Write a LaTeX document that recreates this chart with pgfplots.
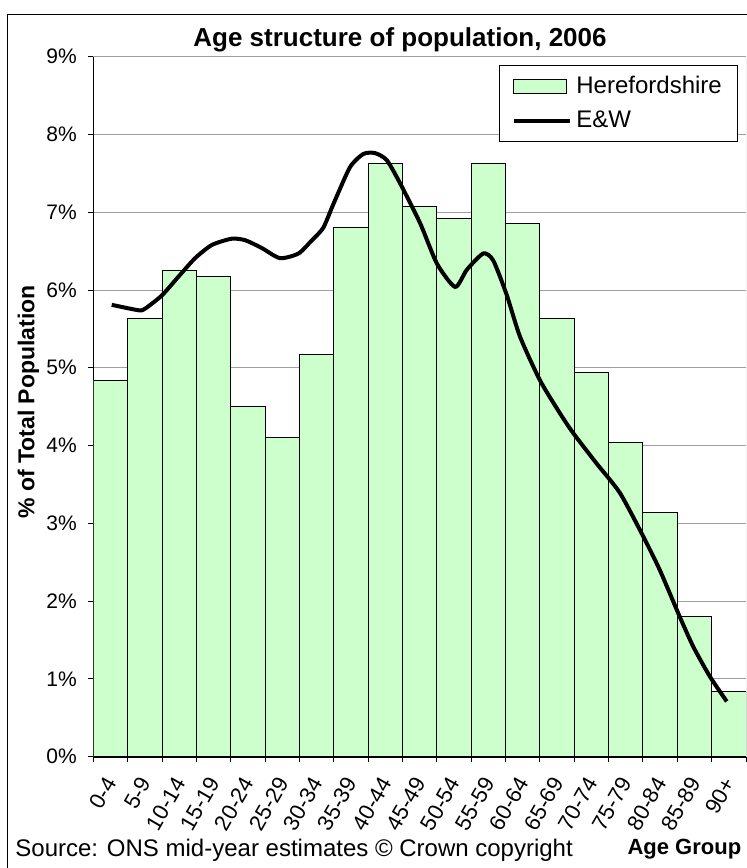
\documentclass[border=0pt]{standalone}
\usepackage{fontspec}
\setmainfont{Liberation Sans}
\usepackage{pgfplots}
\pgfplotsset{compat=1.18}
\definecolor{barfill}{HTML}{CCFFCC}
\definecolor{gridgray}{HTML}{A0A0A0}
\begin{document}
\begin{tikzpicture}[x=1pt,y=1pt]
\useasboundingbox (0,0) rectangle (373.5,434);
\draw[black, line width=0.6pt] (3.65,-10) -- (3.65,426.65) -- (390,426.65);
\begin{axis}[
  at={(46.75pt,55.65pt)}, anchor=south west,
  scale only axis, width=326.25pt, height=350pt,
  xmin=-0.5, xmax=18.5, ymin=0, ymax=9,
  axis x line*=bottom, axis y line*=left,
  x axis line style={line width=1pt, black},
  y axis line style={line width=0.75pt, black},
  ytick={0,...,9},
  yticklabel={\pgfmathprintnumber{\tick}\%},
  /pgf/number format/assume math mode=true,
  ymajorgrids, major grid style={gridgray, line width=0.5pt},
  tick align=outside,
  major tick length=2.85pt, minor tick length=2.85pt,
  every tick/.style={black, line width=0.5pt},
  xtick={0,...,18},
  xticklabels={0-4,5-9,10-14,15-19,20-24,25-29,30-34,35-39,40-44,45-49,50-54,55-59,60-64,65-69,70-74,75-79,80-84,85-89,90+},
  major x tick style={draw=none},
  minor xtick={-0.5,0.5,...,18.5},
  xticklabel style={xshift=2pt, yshift=-5.5pt, rotate=60, anchor=east, font=\fontsize{11}{13}\selectfont},
  yticklabel style={xshift=-2pt, font=\fontsize{10.5}{12}\selectfont},
  legend style={at={(0.9882,0.9881)}, anchor=north east, draw=black, line width=0.5pt,
    font=\fontsize{12}{14.4}\selectfont, cells={anchor=west}, row sep=3pt,
    inner xsep=6pt, inner ysep=3.5pt},
]
\addplot[ybar, bar width=1, fill=barfill, draw=black, line width=0.5pt,
  legend image code/.code={\draw[draw=black, fill=barfill, line width=0.5pt] (0pt,-3.5pt) rectangle (26.2pt,3.5pt);}]
coordinates {
(0,4.84) (1,5.63) (2,6.25) (3,6.17) (4,4.50) (5,4.11) (6,5.17) (7,6.81) (8,7.63) (9,7.07)
(10,6.92) (11,7.63) (12,6.86) (13,5.63) (14,4.94) (15,4.04) (16,3.14) (17,1.80) (18,0.84)
};
\addlegendentry{Herefordshire}
\addplot[black, line width=2pt, smooth, tension=0.4,
  legend image code/.code={\draw[black, line width=2pt] (0pt,0pt) -- (28.3pt,0pt);}]
coordinates {
(0.03,5.81) (0.81,5.74) (1.00,5.76) (1.49,5.93) (1.97,6.17) (2.46,6.41) (2.95,6.58)
(3.53,6.66) (3.92,6.64) (4.40,6.54) (4.93,6.41) (5.47,6.47) (5.86,6.64) (6.19,6.80)
(6.49,7.11) (6.97,7.58) (7.36,7.75) (7.70,7.76) (8.04,7.67) (8.43,7.37) (9.01,6.86)
(9.50,6.34) (10.03,6.04) (10.37,6.26) (10.85,6.47) (11.14,6.38) (11.53,5.94) (11.92,5.40)
(12.50,4.84) (13.09,4.41) (13.47,4.16) (14.15,3.77) (14.83,3.39) (15.51,2.83) (15.99,2.40)
(16.57,1.80) (16.97,1.41) (17.45,1.03) (17.94,0.71)
};
\addlegendentry{E\&W}
\draw[gridgray, line width=0.5pt] (rel axis cs:1,0) -- (rel axis cs:1,1);
\end{axis}
\node[anchor=base, font=\bfseries\fontsize{13}{15}\selectfont] at (200,410.65) {Age structure of population, 2006};
\node[rotate=90, font=\bfseries\fontsize{11.5}{14}\selectfont] at (14.25,233) {\% of Total Population};
\node[anchor=base west, inner sep=0pt, font=\fontsize{12}{14}\selectfont] at (7.5,5.5) {Source: ONS mid-year estimates \textcopyright{} Crown copyright};
\node[anchor=base east, inner sep=0pt, font=\bfseries\fontsize{11}{13}\selectfont] at (370.8,6.5) {Age Group};
\end{tikzpicture}
\end{document}
